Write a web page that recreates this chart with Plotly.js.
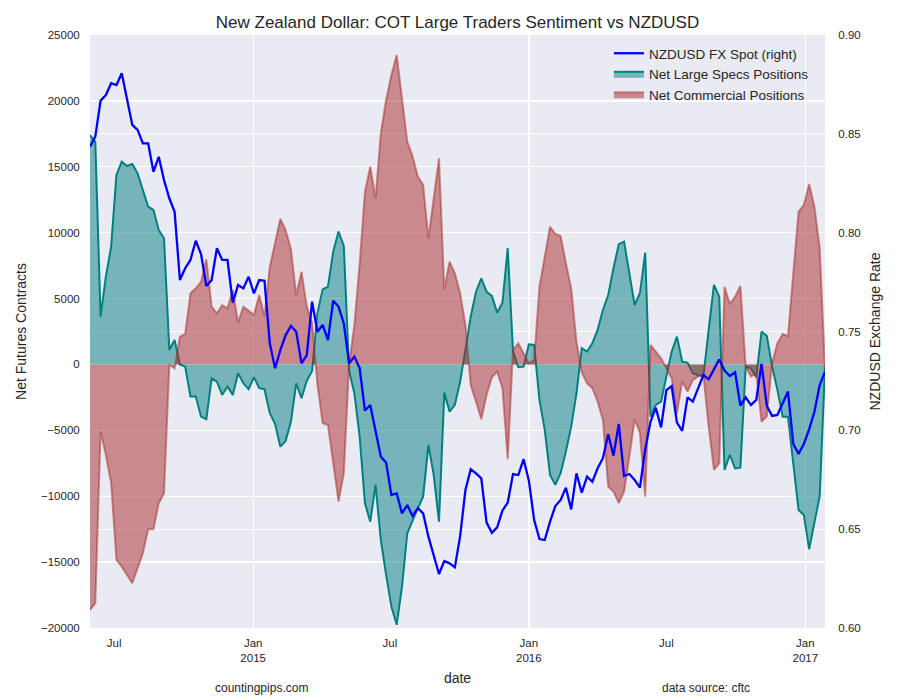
<!DOCTYPE html>
<html>
<head>
<meta charset="utf-8">
<script src="https://cdn.plot.ly/plotly-3.0.1.min.js"></script>
<style>html,body{margin:0;padding:0;background:#fff;}#chart{width:900px;height:700px;}</style>
</head>
<body>
<div id="chart"></div>
<script>
// Weekly COT data: first week, one value per week
const startDate = "2014-05-30";

// NZDUSD spot (right axis)
const spot = [
0.8435,0.8486,0.8668,0.8696,0.8756,0.8747,0.8806,0.8671,0.8545,0.8520,
0.8452,0.8452,0.8308,0.8384,0.8266,0.8174,0.8106,0.7761,0.7820,0.7862,
0.7959,0.7892,0.7730,0.7760,0.7921,0.7862,0.7862,0.7646,0.7735,0.7718,
0.7777,0.7693,0.7760,0.7757,0.7440,0.7314,0.7406,0.7482,0.7528,0.7499,
0.7339,0.7381,0.7651,0.7499,0.7533,0.7457,0.7656,0.7626,0.7541,0.7339,
0.7373,0.7314,0.7100,0.7128,0.7000,0.6867,0.6836,0.6673,0.6681,0.6580,
0.6622,0.6567,0.6606,0.6580,0.6462,0.6361,0.6273,0.6339,0.6327,0.6307,
0.6465,0.6698,0.6803,0.6782,0.6757,0.6533,0.6482,0.6509,0.6594,0.6634,
0.6779,0.6774,0.6854,0.6745,0.6546,0.6450,0.6445,0.6538,0.6617,0.6648,
0.6710,0.6600,0.6782,0.6685,0.6766,0.6740,0.6808,0.6859,0.6980,0.6872,
0.7032,0.6769,0.6779,0.6749,0.6710,0.6904,0.7044,0.7114,0.7015,0.7204,
0.7224,0.7039,0.6997,0.7167,0.7145,0.7212,0.7280,0.7258,0.7305,0.7359,
0.7302,0.7275,0.7294,0.7125,0.7167,0.7128,0.7154,0.7336,0.7123,0.7073,
0.7078,0.7137,0.7196,0.6931,0.6881,0.6931,0.7005,0.7094,0.7229,0.7297
];

// Net large speculator positions (left axis)
const specs = [
17400,16900,3630,6660,8940,14380,15390,15060,15210,14500,
13240,11970,11720,10200,9570,1100,1860,0,-170,-2440,
-2440,-3960,-4160,-1050,-1300,-2310,-1680,-2310,-670,-1430,
-1880,-970,-1800,-1880,-3700,-4500,-6240,-5800,-4340,-1430,
-2560,-1230,-500,3880,5700,5900,8560,10080,8990,-500,
-2190,-5480,-10530,-11930,-9140,-13320,-15970,-18380,-19760,-16860,
-12810,-11800,-10910,-10030,-6110,-8380,-11930,-2140,-3580,-3070,
-1300,1100,3630,5520,6540,5520,5200,3930,4690,8820,
970,-210,-170,1530,1480,-2690,-4970,-8380,-9140,-8250,
-6610,-4720,-2190,1230,970,1610,2620,4130,5270,7300,
9120,9320,6790,4510,5400,8480,-3960,-3070,-2820,-800,
970,2110,210,140,-670,-800,-900,2620,6030,5140,
-8000,-6870,-7880,-7830,-170,-290,-970,2490,2160,-170,
-1930,-3960,-3960,-7500,-11040,-11420,-14020,-12000,-9980,-170
];

// Net commercial positions (left axis)
const commercial = [
-18630,-18120,-5100,-6870,-9010,-14830,-15340,-15970,-16600,-15460,
-14320,-12500,-12500,-10530,-9770,-40,-290,2110,2310,5400,
5780,6280,7980,4390,3880,4510,4260,5650,3170,4390,
4080,3760,5270,3680,7400,9200,11050,10200,8740,5270,
7040,4390,3130,-1500,-4460,-4590,-7500,-10410,-8250,0,
3000,7680,13110,15000,12610,17540,20070,21970,23480,20200,
16900,15820,14250,13620,9570,12610,15640,5700,7800,6920,
5400,3000,-1560,-2820,-4160,-2310,-970,-550,-1800,-7190,
1100,1610,850,90,340,5900,8180,10450,9900,9750,
7680,5780,1730,-600,-1430,-1800,-2820,-4210,-9270,-9650,
-10530,-9650,-7000,-4160,-5200,-10030,1480,970,470,-300,
-1050,-3700,-1300,-2060,-1180,-925,-800,-4720,-8000,-7500,
5900,4590,5140,5960,-170,-925,-670,-4340,-3960,90,
1610,2310,2160,6920,11590,12100,13690,11970,8820,-400
];

// Axis tick positions / labels
const xTickVals = ["2014-07-01","2015-01-01","2015-07-01","2016-01-01","2016-07-01","2017-01-01"];
const xTickText = ["Jul","Jan<br>2015","Jul","Jan<br>2016","Jul","Jan<br>2017"];
const xGridVals = ["2015-01-01","2016-01-01","2017-01-01"];

const t0 = Date.parse(startDate + "T00:00:00Z");
const dates = spot.map((_, i) => new Date(t0 + i * 7 * 86400000).toISOString().slice(0, 10));

const FONT = "Liberation Sans, Arial, sans-serif";
const NOTICK = "rgba(0,0,0,0)";

const traces = [
  {
    x: dates, y: specs, type: "scatter", mode: "lines",
    name: "Net Large Specs Positions",
    fill: "tozeroy", fillcolor: "rgba(0,128,128,0.5)",
    line: {color: "#008080", width: 2},
    legendrank: 2, yaxis: "y"
  },
  {
    x: dates, y: commercial, type: "scatter", mode: "lines",
    name: "Net Commercial Positions",
    fill: "tozeroy", fillcolor: "rgba(165,42,42,0.5)",
    line: {color: "rgba(165,42,42,0.5)", width: 2},
    legendrank: 3, yaxis: "y"
  },
  {
    x: dates, y: spot, type: "scatter", mode: "lines",
    name: "NZDUSD FX Spot (right)",
    line: {color: "#0000ff", width: 2.3},
    legendrank: 1, yaxis: "y2"
  }
];

const layout = {
  width: 900, height: 700,
  margin: {l: 90, r: 75, t: 35, b: 72},
  paper_bgcolor: "#ffffff",
  plot_bgcolor: "#EAEAF2",
  font: {family: FONT, color: "#262626", size: 11.5},
  title: {text: "New Zealand Dollar: COT Large Traders Sentiment vs NZDUSD",
          font: {family: FONT, size: 17, color: "#262626"},
          x: 0.5, xref: "paper", y: 0.968, yanchor: "middle"},
  showlegend: true,
  legend: {x: 0.706, y: 0.995, xanchor: "left", yanchor: "top",
           bgcolor: "rgba(0,0,0,0)", font: {size: 13.5, family: FONT, color: "#262626"},
           tracegroupgap: 0, itemwidth: 30},
  xaxis: {
    type: "date", range: [dates[0], dates[dates.length - 1]],
    tickmode: "array", tickvals: xTickVals, ticktext: xTickText,
    showgrid: false, zeroline: false, showline: false,
    ticks: "outside", ticklen: 4, tickcolor: NOTICK,
    tickfont: {size: 11.5},
    minor: {tickmode: "array", tickvals: xGridVals, showgrid: true, gridcolor: "#ffffff", gridwidth: 1.3, ticks: ""},
    title: {text: "date", font: {size: 14}, standoff: 10}
  },
  yaxis: {
    range: [-20000, 25000], tickmode: "linear", tick0: -20000, dtick: 5000,
    showgrid: true, gridcolor: "#ffffff", gridwidth: 1.3, zeroline: false,
    showline: false, ticks: "outside", ticklen: 7, tickcolor: NOTICK, tickformat: "d",
    title: {text: "Net Futures Contracts", font: {size: 14}, standoff: 11}
  },
  yaxis2: {
    overlaying: "y", side: "right",
    range: [0.60, 0.90], tickmode: "linear", tick0: 0.60, dtick: 0.05, tickformat: ".2f",
    showgrid: true, gridcolor: "#ffffff", gridwidth: 1.3, zeroline: false,
    showline: false, ticks: "outside", ticklen: 10, tickcolor: NOTICK,
    title: {text: "NZDUSD Exchange Rate", font: {size: 14}, standoff: 10}
  },
  annotations: [
    {text: "countingpips.com", xref: "paper", yref: "paper", x: 0.234, y: -0.102,
     xanchor: "center", yanchor: "middle", showarrow: false, font: {size: 12}},
    {text: "data source: cftc", xref: "paper", yref: "paper", x: 0.838, y: -0.102,
     xanchor: "center", yanchor: "middle", showarrow: false, font: {size: 12}}
  ]
};

Plotly.newPlot("chart", traces, layout, {displayModeBar: false, staticPlot: true});
</script>
</body>
</html>
